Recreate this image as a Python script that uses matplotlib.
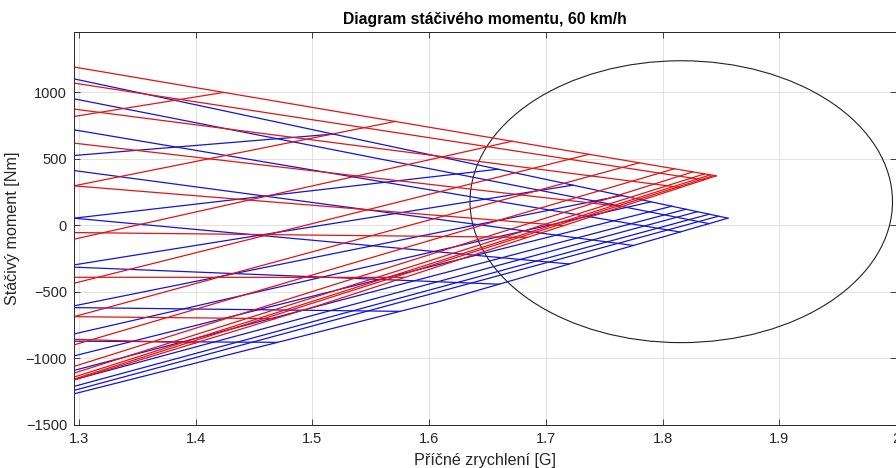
"""
Yaw moment diagram (MMM) zoomed to the lateral limit, two set-ups.
"""

import matplotlib
matplotlib.use("Agg")
import matplotlib.pyplot as plt
from matplotlib.patches import Ellipse

plt.rcParams['font.family'] = ['Liberation Sans', 'DejaVu Sans']

X_LEFT = 1.2957  # left edge of the zoomed window

# --- red set-up ---
red_upper_x = [1.2957, 1.846]
red_upper_y = [1190, 372]
red_lower_x = [1.2957, 1.5066, 1.846]
red_lower_y = [-1162, -598, 372]
# lines falling towards the lower boundary
red_desc_y0 = [1069, 874, 618, 297, -54, -390, -686, -856]
red_desc_x1 = [1.835, 1.815, 1.765, 1.715, 1.684, 1.579, 1.468, 1.40]
red_desc_y1 = [342, 285, 141, -2, -90, -391, -701, -883]
# lines rising towards the upper boundary
red_asc_y0 = [818, 297, -104, -435, -686, -898, -1060, -1110, -1140, -1155]
red_asc_x1 = [1.424, 1.571, 1.671, 1.737, 1.780, 1.810, 1.826, 1.836, 1.841, 1.844]
red_asc_y1 = [999, 781, 632, 534, 470, 425, 402, 387, 380, 375]

# --- blue set-up ---
blue_upper_x = [1.2957, 1.856]
blue_upper_y = [1101, 54]
blue_lower_x = [1.2957, 1.6094, 1.856]
blue_lower_y = [-1266, -570, 54]
blue_desc_y0 = [951, 718, 412, 54, -314, -618, -870]
blue_desc_x1 = [1.840, 1.815, 1.775, 1.72, 1.66, 1.575, 1.47]
blue_desc_y1 = [13, -50, -151, -290, -442, -646, -879]
blue_asc_y0 = [525, 54, -297, -605, -816, -981, -1090, -1160, -1210, -1240]
blue_asc_x1 = [1.518, 1.659, 1.723, 1.765, 1.790, 1.808, 1.820, 1.830, 1.840, 1.848]
blue_asc_y1 = [686, 422, 302, 224, 177, 144, 121, 103, 84, 69]

# stability circle
circle_center = (1.816, 178)
circle_width = 0.362
circle_height = 2118

x_ticks = [1.3, 1.4, 1.5, 1.6, 1.7, 1.8, 1.9, 2.0]
x_tick_labels = ['1.3', '1.4', '1.5', '1.6', '1.7', '1.8', '1.9', '2']
y_ticks = [-1500, -1000, -500, 0, 500, 1000]


def draw_set(ax, color, upper_x, upper_y, lower_x, lower_y,
             desc_y0, desc_x1, desc_y1, asc_y0, asc_x1, asc_y1):
    """Draw one grid of constant steer / constant slip lines."""
    kw = dict(color=color, linewidth=0.9)
    ax.plot(upper_x, upper_y, **kw)
    ax.plot(lower_x, lower_y, **kw)
    for y0, x1, y1 in zip(desc_y0, desc_x1, desc_y1):
        ax.plot([X_LEFT, x1], [y0, y1], **kw)
    for y0, x1, y1 in zip(asc_y0, asc_x1, asc_y1):
        ax.plot([X_LEFT, x1], [y0, y1], **kw)


fig = plt.figure(figsize=(8.96, 4.68), dpi=100)
ax = fig.add_axes([74 / 896, 1 - 425 / 468, 1 - 74 / 896, (425 - 32) / 468])

draw_set(ax, '#1414dc', blue_upper_x, blue_upper_y, blue_lower_x, blue_lower_y,
         blue_desc_y0, blue_desc_x1, blue_desc_y1,
         blue_asc_y0, blue_asc_x1, blue_asc_y1)
draw_set(ax, '#e41414', red_upper_x, red_upper_y, red_lower_x, red_lower_y,
         red_desc_y0, red_desc_x1, red_desc_y1,
         red_asc_y0, red_asc_x1, red_asc_y1)

ax.add_patch(Ellipse(circle_center, circle_width, circle_height,
                     fill=False, edgecolor='#222222', linewidth=0.8))

ax.set_xlim(X_LEFT, 2.0)
ax.set_ylim(-1500, 1453)
ax.set_xticks(x_ticks)
ax.set_xticklabels(x_tick_labels)
ax.set_yticks(y_ticks)
ax.grid(True, color='#dcdcdc', linewidth=0.6)
ax.set_axisbelow(True)
ax.tick_params(direction='in', length=4, width=0.6, top=True, right=True,
               labelsize=10.5, colors='#262626', pad=5)
for sp in ax.spines.values():
    sp.set_color('#262626')
    sp.set_linewidth(0.7)

ax.set_title('Diagram stáčivého momentu, 60 km/h', fontsize=11.3,
             fontweight='bold', pad=6)
ax.set_xlabel('Příčné zrychlení [G]', fontsize=11.6, color='#262626', labelpad=5)
ax.set_ylabel('Stáčivý moment [Nm]', fontsize=11.6, color='#262626', labelpad=4)

fig.savefig('out.png', dpi=100)
